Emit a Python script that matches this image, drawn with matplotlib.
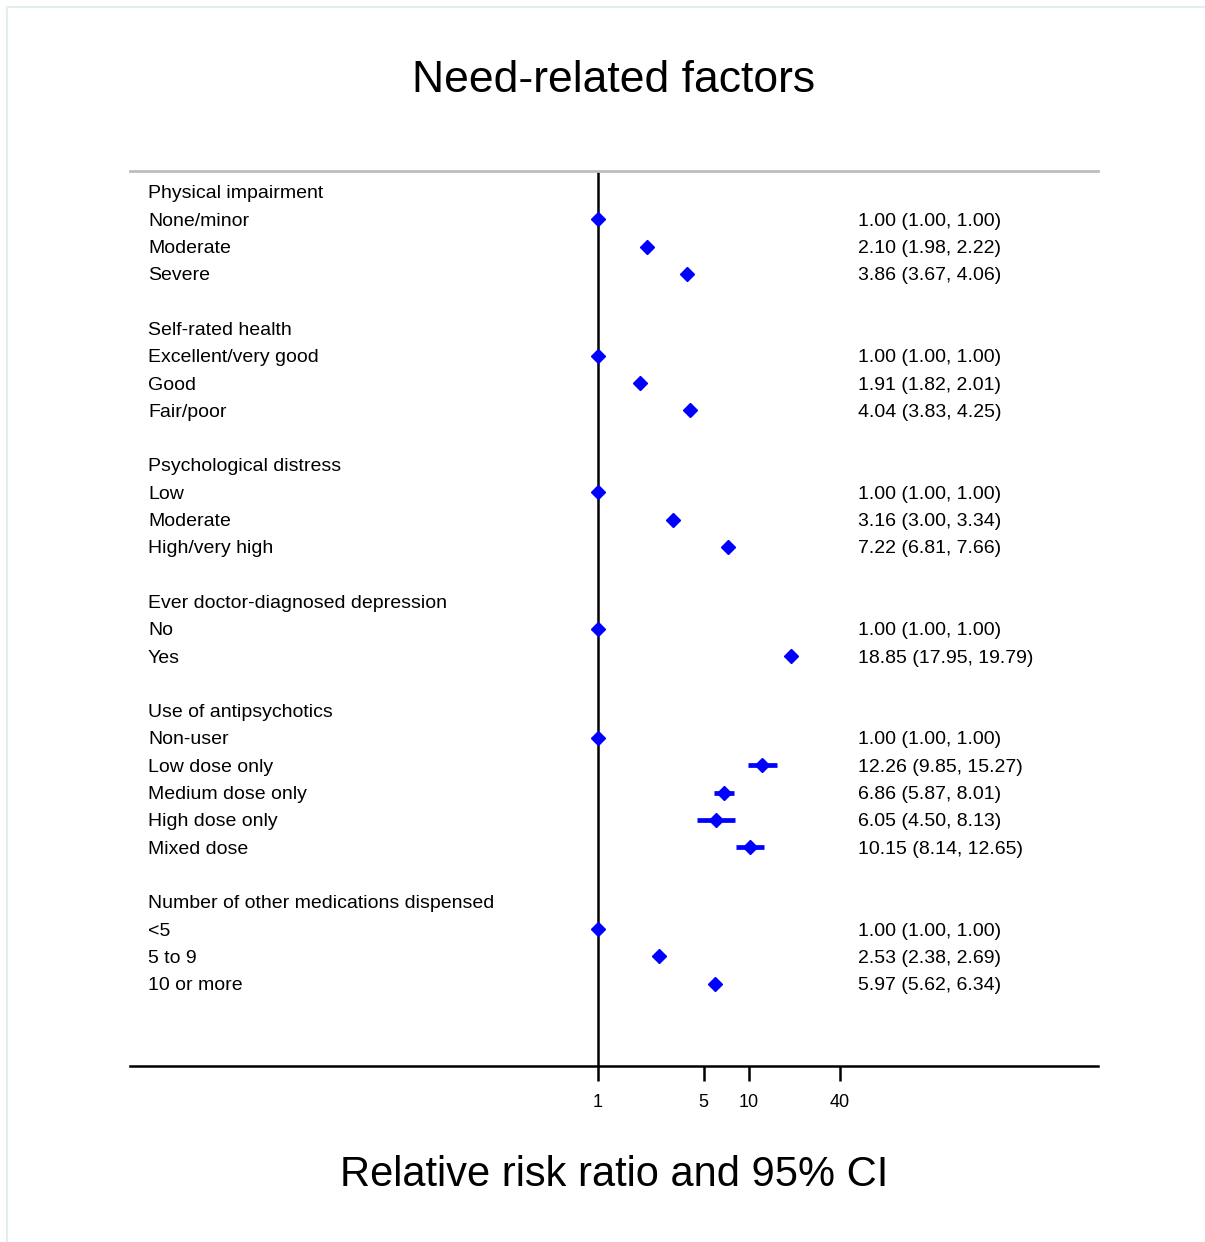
import numpy as np
import matplotlib.pyplot as plt
from matplotlib.lines import Line2D
import matplotlib.transforms as mtransforms

plt.rcParams['font.family'] = ['Liberation Sans', 'DejaVu Sans']

# Grupos y categorias
groups = ['Physical impairment', 'Self-rated health', 'Psychological distress',
          'Ever doctor-diagnosed depression', 'Use of antipsychotics',
          'Number of other medications dispensed']
labels = [
    ['None/minor', 'Moderate', 'Severe'],
    ['Excellent/very good', 'Good', 'Fair/poor'],
    ['Low', 'Moderate', 'High/very high'],
    ['No', 'Yes'],
    ['Non-user', 'Low dose only', 'Medium dose only', 'High dose only', 'Mixed dose'],
    ['<5', '5 to 9', '10 or more'],
]
rr = [
    [1.00, 2.10, 3.86],
    [1.00, 1.91, 4.04],
    [1.00, 3.16, 7.22],
    [1.00, 18.85],
    [1.00, 12.26, 6.86, 6.05, 10.15],
    [1.00, 2.53, 5.97],
]
lo = [
    [1.00, 1.98, 3.67],
    [1.00, 1.82, 3.83],
    [1.00, 3.00, 6.81],
    [1.00, 17.95],
    [1.00, 9.85, 5.87, 4.50, 8.14],
    [1.00, 2.38, 5.62],
]
hi = [
    [1.00, 2.22, 4.06],
    [1.00, 2.01, 4.25],
    [1.00, 3.34, 7.66],
    [1.00, 19.79],
    [1.00, 15.27, 8.01, 8.13, 12.65],
    [1.00, 2.69, 6.34],
]
ticks = [1, 5, 10, 40]

W, H = 1205, 1242
fig = plt.figure(figsize=(W / 100, H / 100), dpi=100)

# borde claro del fondo
fig.add_artist(Line2D([7 / W, 1], [1 - 6.5 / H, 1 - 6.5 / H], color='#e4eeee', lw=1.5))
fig.add_artist(Line2D([7.5 / W, 7.5 / W], [0, 1 - 6.5 / H], color='#e4eeee', lw=1.5))

x0, x1, ytop, ybot = 130, 1098, 171, 1066
ax = fig.add_axes([x0 / W, 1 - ybot / H, (x1 - x0) / W, (ybot - ytop) / H])
ax.set_xscale('log')
ppd = 151.0  # pixeles por decada
ax.set_xlim(10 ** (-(598 - x0) / ppd), 10 ** ((x1 - 598) / ppd))

row_h = 27.3
ax.set_ylim((ybot - 192) / row_h, (ytop - 192) / row_h)

trans = mtransforms.blended_transform_factory(ax.transAxes, ax.transData)
fs = 14
dy = 0.07  # el texto queda un poco mas abajo

row = 0
for g, labs, r, l, h in zip(groups, labels, rr, lo, hi):
    ax.text(18 / (x1 - x0), row + dy, g, transform=trans, fontsize=fs, va='center', ha='left')
    row += 1
    for lab, rv, lv, hv in zip(labs, r, l, h):
        ax.text(18 / (x1 - x0), row + dy, lab, transform=trans, fontsize=fs,
                va='center', ha='left')
        ax.hlines(row, lv, hv, color='blue', lw=3.4, zorder=3)
        ax.plot(rv, row, 'D', color='blue', ms=7.3, zorder=4)
        ax.text((858 - x0) / (x1 - x0), row + dy, f'{rv:.2f} ({lv:.2f}, {hv:.2f})',
                transform=trans, fontsize=fs, va='center', ha='left')
        row += 1
    row += 1

ax.axvline(1, color='black', lw=1.8, zorder=2)

for s in ['left', 'right']:
    ax.spines[s].set_visible(False)
ax.spines['top'].set_color('#bdbdbd')
ax.spines['top'].set_linewidth(2)
ax.spines['bottom'].set_color('black')
ax.spines['bottom'].set_linewidth(1.8)

ax.set_xticks(ticks)
ax.set_xticklabels([str(t) for t in ticks])
ax.xaxis.set_minor_locator(plt.NullLocator())
ax.tick_params(axis='x', length=11, width=1.8, labelsize=13, pad=9)
ax.set_yticks([])

fig.text(614 / W, 1 - 80 / H, 'Need-related factors', fontsize=32, ha='center', va='center')
fig.text(614 / W, 1 - 1175 / H, 'Relative risk ratio and 95% CI', fontsize=30,
         ha='center', va='center')

fig.savefig('out.png', dpi=100)
